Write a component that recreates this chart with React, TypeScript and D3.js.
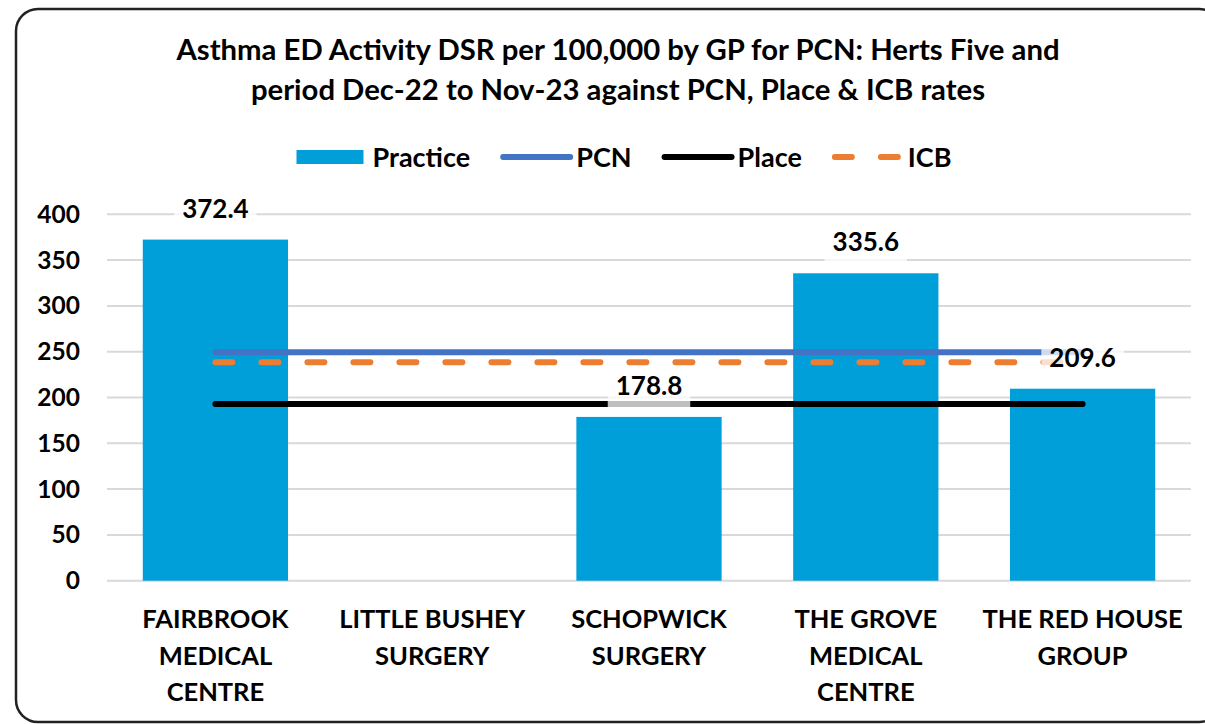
import React, { useEffect, useRef } from 'react';
import * as d3 from 'd3';

const categories = ['FAIRBROOK MEDICAL CENTRE', 'LITTLE BUSHEY SURGERY', 'SCHOPWICK SURGERY', 'THE GROVE MEDICAL CENTRE', 'THE RED HOUSE GROUP'];
const practice = [372.4, null, 178.8, 335.6, 209.6];
const pcn = [249.3, 249.3, 249.3, 249.3, 249.3];
const place = [192.9, 192.9, 192.9, 192.9, 192.9];
const icb = [238.4, 238.4, 238.4, 238.4, 238.4];
const yTicks = [0, 50, 100, 150, 200, 250, 300, 350, 400];
const titleLines = ['Asthma ED Activity DSR per 100,000 by GP for PCN: Herts Five and', 'period Dec-22 to Nov-23 against PCN, Place & ICB rates'];

const W = 1205;
const H = 724;
const FONT = 'Lato, "Open Sans", sans-serif';
const BAR = '#009fda';
const PCN_C = '#4472c4';
const ICB_C = '#ed7d31';

export default function App() {
  const ref = useRef<SVGSVGElement>(null);

  useEffect(() => {
    const svg = d3.select(ref.current);
    svg.selectAll('*').remove();

    // outer frame
    svg.append('rect')
      .attr('x', 16).attr('y', 9).attr('width', 1205).attr('height', 713).attr('rx', 22)
      .attr('fill', '#fff').attr('stroke', '#222').attr('stroke-width', 2.5);

    // title
    svg.append('g').selectAll('text').data(titleLines).enter().append('text')
      .attr('x', 618).attr('y', (d, i) => 60 + i * 40)
      .attr('text-anchor', 'middle')
      .style('font-family', FONT).style('font-weight', 700).style('font-size', '29.3px')
      .text(d => d);

    const x = d3.scaleBand<string>().domain(categories).range([107, 1191]).padding(0);
    const y = d3.scaleLinear().domain([0, 400]).range([580.7, 214.3]);
    const barW = x.bandwidth() * 0.67;
    const cx = (d: string) => (x(d) as number) + x.bandwidth() / 2;

    // gridlines
    svg.append('g').selectAll('line').data(yTicks).enter().append('line')
      .attr('x1', 107).attr('x2', 1191)
      .attr('y1', d => y(d)).attr('y2', d => y(d))
      .attr('stroke', '#d9d9d9').attr('stroke-width', 2);

    // y labels
    svg.append('g').selectAll('text').data(yTicks).enter().append('text')
      .attr('x', 80).attr('y', d => y(d) + 8.5)
      .attr('text-anchor', 'end')
      .style('font-family', FONT).style('font-weight', 700).style('font-size', '24.5px')
      .text(d => d);

    // bars
    const barData = categories.map((c, i) => ({ c, v: practice[i] })).filter(d => d.v != null) as { c: string; v: number }[];
    svg.append('g').selectAll('rect').data(barData).enter().append('rect')
      .attr('x', d => cx(d.c) - barW / 2).attr('width', barW)
      .attr('y', d => y(d.v)).attr('height', d => y(0) - y(d.v))
      .attr('fill', BAR);

    // reference lines
    const line = d3.line<number>().x((d, i) => cx(categories[i])).y(d => y(d));
    svg.append('path').attr('d', line(pcn)).attr('fill', 'none')
      .attr('stroke', PCN_C).attr('stroke-width', 6).attr('stroke-linecap', 'round');
    svg.append('path').attr('d', line(icb)).attr('fill', 'none')
      .attr('stroke', ICB_C).attr('stroke-width', 6).attr('stroke-linecap', 'round')
      .attr('stroke-dasharray', '17,29');
    svg.append('path').attr('d', line(place)).attr('fill', 'none')
      .attr('stroke', '#000').attr('stroke-width', 6).attr('stroke-linecap', 'round');

    // data labels
    const lab = svg.append('g').selectAll('g').data(barData).enter().append('g');
    const labText = lab.append('text')
      .attr('x', d => cx(d.c)).attr('y', d => y(d.v) - 22)
      .attr('text-anchor', 'middle')
      .style('font-family', FONT).style('font-weight', 700).style('font-size', '26px')
      .text(d => d.v.toFixed(1));
    labText.each(function (d) {
      const w = (this as SVGTextElement).getComputedTextLength();
      d3.select((this as SVGTextElement).parentNode as SVGGElement).insert('rect', 'text')
        .attr('x', cx(d.c) - w / 2 - 8).attr('width', w + 16)
        .attr('y', y(d.v) - 45).attr('height', 37)
        .attr('fill', '#fff').attr('fill-opacity', 0.75);
    });

    // category labels (wrapped)
    const catG = svg.append('g');
    categories.forEach(c => {
      const words = c.split(' ');
      const lines: string[] = [];
      let cur = '';
      const probe = catG.append('text').style('font-family', FONT).style('font-weight', 700).style('font-size', '25.5px');
      words.forEach(wd => {
        const t = cur ? cur + ' ' + wd : wd;
        probe.text(t);
        if ((probe.node() as SVGTextElement).getComputedTextLength() > 205 && cur) {
          lines.push(cur);
          cur = wd;
        } else cur = t;
      });
      lines.push(cur);
      probe.remove();
      catG.append('g').selectAll('text').data(lines).enter().append('text')
        .attr('x', cx(c)).attr('y', (d, i) => 628 + i * 36.5)
        .attr('text-anchor', 'middle')
        .style('font-family', FONT).style('font-weight', 700).style('font-size', '25.5px')
        .text(d => d);
    });

    // legend
    const leg = svg.append('g');
    const items = [
      { name: 'Practice', kind: 'bar' },
      { name: 'PCN', kind: 'pcn' },
      { name: 'Place', kind: 'place' },
      { name: 'ICB', kind: 'icb' },
    ];
    let lx = 0;
    const ly = 157;
    items.forEach(it => {
      if (it.kind === 'bar') {
        leg.append('rect').attr('x', lx).attr('y', ly - 7).attr('width', 67).attr('height', 14).attr('fill', BAR);
      } else {
        const col = it.kind === 'pcn' ? PCN_C : it.kind === 'icb' ? ICB_C : '#000';
        leg.append('line').attr('x1', lx + 3).attr('x2', lx + 70).attr('y1', ly).attr('y2', ly)
          .attr('stroke', col).attr('stroke-width', 6).attr('stroke-linecap', 'round')
          .attr('stroke-dasharray', it.kind === 'icb' ? '17,29' : null);
      }
      const t = leg.append('text').attr('x', lx + 76).attr('y', ly + 9.5)
        .style('font-family', FONT).style('font-weight', 700).style('font-size', '27px')
        .text(it.name);
      lx += 76 + (t.node() as SVGTextElement).getComputedTextLength() + 30;
    });
    const total = lx - 30;
    leg.attr('transform', `translate(${624 - total / 2},0)`);
  }, []);

  return (
    <svg ref={ref} width={W} height={H} style={{ position: 'absolute', left: 0, top: 0, background: '#fff' }} />
  );
}
